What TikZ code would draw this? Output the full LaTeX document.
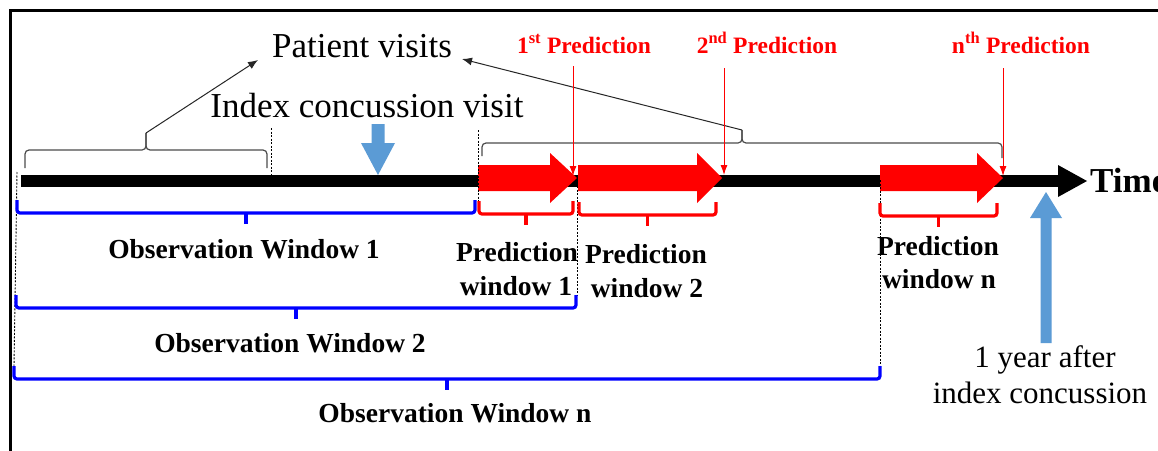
\documentclass[tikz,border=0pt]{standalone}
\usepackage{fontspec}
\setmainfont{Liberation Serif}
\usetikzlibrary{arrows.meta}
\definecolor{arrblue}{RGB}{91,155,213}
\definecolor{brblue}{RGB}{0,0,255}
% red block arrow: x0, xbase, xtip, ycenter
\newcommand\redblockarrow[4]{%
  \fill[red] (#1,#4-13) -- (#2,#4-13) -- (#2,#4-25) -- (#3,#4) -- (#2,#4+25) -- (#2,#4+13) -- (#1,#4+13) -- cycle;}
% window bracket: style, x1, x2, ytop, yline
\newcommand\winbracket[5]{%
  \draw[#1] (#2,#4) -- (#2,#5) -- (#3,#5) -- (#3,#4);
  \draw[#1,rounded corners=0pt] ({(#2+#3)/2},#5) -- ({(#2+#3)/2},#5+11);}
\begin{document}
\begin{tikzpicture}[x=1pt,y=-1pt,
  frameline/.style={line width=3pt,black},
  gbrace/.style={draw=black!70,line width=1.2pt,rounded corners=4pt},
  ptr/.style={draw=black!85,line width=1pt,-{Latex[length=10pt,width=8pt]}},
  redptr/.style={draw=red,line width=1pt,-{Latex[length=10pt,width=7pt]}},
  obsbr/.style={draw=brblue,line width=3.2pt,rounded corners=3pt},
  predbr/.style={draw=red,line width=3.2pt,rounded corners=3pt},
  guide/.style={draw=black,line width=0.9pt,dash pattern=on 2pt off 1.5pt},
  bigtxt/.style={font=\fontsize{35}{40}\selectfont,inner sep=0pt},
  midtxt/.style={font=\fontsize{31}{36}\selectfont,inner sep=0pt},
  redlab/.style={font=\bfseries\fontsize{23.5}{27}\selectfont,text=red,inner sep=0pt},
  winlab/.style={font=\bfseries\fontsize{27.5}{33}\selectfont,inner sep=0pt},
  timelab/.style={font=\bfseries\fontsize{35}{40}\selectfont,inner sep=0pt}
]
\useasboundingbox (0,0) rectangle (1158,450);
\fill[white] (0,0) rectangle (1158,450);
% frame
\draw[frameline] (10,452) -- (10,10) -- (1160,10);

% timeline
\fill[black] (21,174.5) rectangle (1058,186.5);
\fill[black] (1058,165) -- (1087,181) -- (1058,197) -- cycle;

% red prediction block arrows
\redblockarrow{478}{550}{577}{178}
\redblockarrow{578}{697}{722}{178}
\redblockarrow{880}{977}{1003}{178}

% blue arrows
\fill[arrblue] (371.5,124) -- (384.5,124) -- (384.5,143) -- (395,143) -- (378,175) -- (361,143) -- (371.5,143) -- cycle;
\fill[arrblue] (1040.5,343) -- (1051.5,343) -- (1051.5,218) -- (1062,218) -- (1046,192) -- (1030,218) -- (1040.5,218) -- cycle;

% dotted guides
\draw[guide] (17,172) -- (14,366);
\draw[guide] (271,128) -- (271,174);
\draw[guide] (478,130) -- (478,203);
\draw[guide] (577,186) -- (577,296);
\draw[guide] (880,180) -- (880,366);

% gray braces for patient visits
\draw[gbrace] (25,168) -- (25,150) -- (146,150) -- (146,133);
\draw[gbrace] (267,168) -- (267,150) -- (146,150) -- (146,133);
\draw[gbrace] (482,156) -- (482,143) -- (742,143) -- (742,130);
\draw[gbrace] (1002,158) -- (1002,143) -- (742,143) -- (742,130);
\coordinate (lbtip) at (146,133);
\coordinate (rbtip) at (742,130);

% texts
\node[bigtxt,anchor=base] (pv) at (362,57) {Patient visits};
\node[bigtxt,anchor=base] (icv) at (367,117) {Index concussion visit};
\node[redlab,anchor=base] (pr1) at (584,53) {1\textsuperscript{st} Prediction};
\node[redlab,anchor=base] (pr2) at (767,53) {2\textsuperscript{nd} Prediction};
\node[redlab,anchor=base] (prn) at (1021,53) {n\textsuperscript{th} Prediction};

\coordinate (pvL) at (258,60);
\coordinate (pvR) at (462,59);
\draw[ptr] (lbtip) -- (pvL);
\draw[ptr] (rbtip) -- (pvR);

% red pointers
\coordinate (p1a) at (573,66);  \coordinate (p1b) at (573,176);
\coordinate (p2a) at (724,68);  \coordinate (p2b) at (724,175);
\coordinate (pna) at (1003,68); \coordinate (pnb) at (1003,176);
\draw[redptr] (p1a) -- (p1b);
\draw[redptr] (p2a) -- (p2b);
\draw[redptr] (pna) -- (pnb);

% window brackets
\winbracket{obsbr}{17}{475}{200}{213}
\winbracket{predbr}{479}{573}{201}{214}
\winbracket{predbr}{579}{716}{202}{215}
\winbracket{predbr}{880}{997}{203}{216}
\winbracket{obsbr}{16}{576}{295}{308}
\winbracket{obsbr}{14}{880}{366}{379}

% window labels
\node[winlab,anchor=base] (ow1) at (244,258) {Observation Window 1};
\node[winlab,anchor=base] (pw1a) at (517,261) {Prediction};
\node[winlab,anchor=base] (pw1b) at (516,295) {window 1};
\node[winlab,anchor=base] (pw2a) at (646,263) {Prediction};
\node[winlab,anchor=base] (pw2b) at (647,297) {window 2};
\node[winlab,anchor=base] (pwna) at (938,255) {Prediction};
\node[winlab,anchor=base] (pwnb) at (939,288) {window n};
\node[winlab,anchor=base] (ow2) at (290,352) {Observation Window 2};
\node[winlab,anchor=base] (own) at (455,422) {Observation Window n};

\node[midtxt,anchor=base] (yr1) at (1045,367) {1 year after};
\node[midtxt,anchor=base] (yr2) at (1040,403) {index concussion};
\node[timelab,anchor=west] (time) at (1090,181) {Time};
\end{tikzpicture}
\end{document}
